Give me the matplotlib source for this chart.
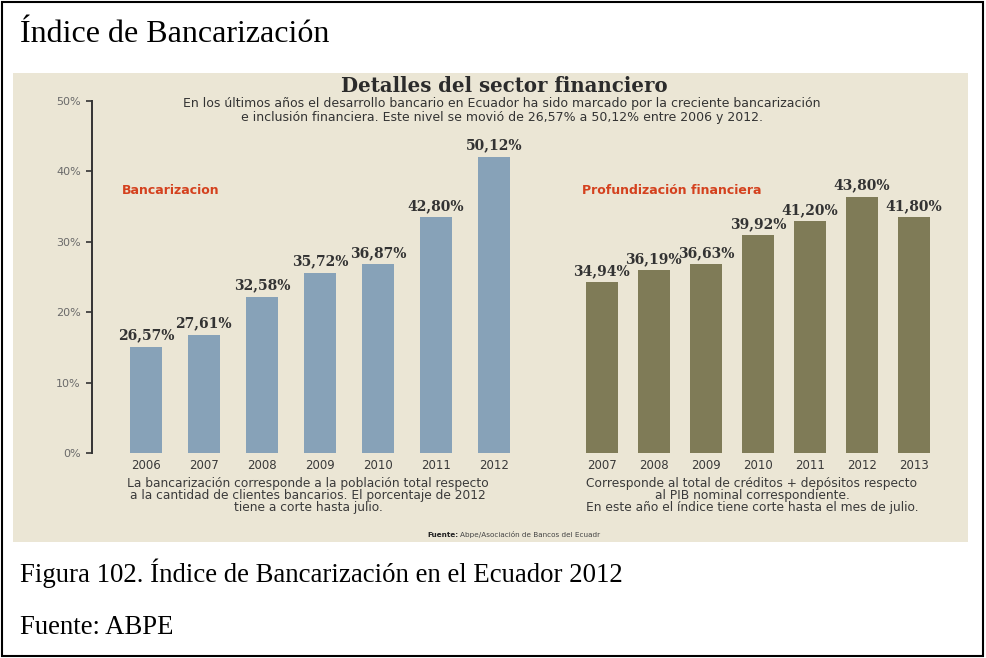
import numpy as np
import matplotlib.pyplot as plt
from matplotlib.patches import Rectangle

banc_years = ['2006', '2007', '2008', '2009', '2010', '2011', '2012']
banc_labels = ['26,57%', '27,61%', '32,58%', '35,72%', '36,87%', '42,80%', '50,12%']
# heights as the bars are drawn against the printed 0-50% axis
banc_heights = [15.1, 16.8, 22.2, 25.6, 26.8, 33.5, 42.1]

prof_years = ['2007', '2008', '2009', '2010', '2011', '2012', '2013']
prof_labels = ['34,94%', '36,19%', '36,63%', '39,92%', '41,20%', '43,80%', '41,80%']
prof_heights = [24.3, 26.0, 26.8, 30.9, 32.9, 36.4, 33.5]

yticks = [0, 10, 20, 30, 40, 50]

W, H = 986, 658
fig = plt.figure(figsize=(W / 100, H / 100), dpi=100)

def fx(px):
    return px / W

def fy(py):
    return 1 - py / H

# outer border and beige panel (behind the axes)
fig.patches.append(Rectangle((fx(2), fy(656)), fx(981), (654) / H, transform=fig.transFigure,
                             fill=False, edgecolor='black', linewidth=1.5, zorder=-2))
fig.patches.append(Rectangle((fx(13), fy(542)), fx(955), (542 - 73) / H, transform=fig.transFigure,
                             facecolor='#ebe6d5', edgecolor='none', zorder=-2))

serif_doc = 'Liberation Serif'
fig.text(fx(20), fy(35), 'Índice de Bancarización', fontsize=23, family=serif_doc, va='center')
fig.text(fx(20), fy(573), 'Figura 102. Índice de Bancarización en el Ecuador 2012',
         fontsize=19.3, family=serif_doc, va='center')
fig.text(fx(20), fy(627), 'Fuente: ABPE', fontsize=19.3, family=serif_doc, va='center')

# infographic header
fig.text(fx(504), fy(86), 'Detalles del sector financiero', fontsize=14.2, family='DejaVu Serif',
         fontweight='bold', color='#2b2b2b', ha='center', va='center')
fig.text(fx(502), fy(104), 'En los últimos años el desarrollo bancario en Ecuador ha sido marcado por la creciente bancarización',
         fontsize=9, color='#333333', ha='center', va='center')
fig.text(fx(502), fy(117), 'e inclusión financiera. Este nivel se movió de 26,57% a 50,12% entre 2006 y 2012.',
         fontsize=9, color='#333333', ha='center', va='center')

fig.text(fx(122), fy(190), 'Bancarizacion', fontsize=9, fontweight='bold', color='#d4411e', va='center')
fig.text(fx(582), fy(190), 'Profundización financiera', fontsize=9, fontweight='bold', color='#d4411e', va='center')

ax_bottom = fy(453)
ax_h = (453 - 101) / H

# left chart
ax1 = fig.add_axes([fx(92), ax_bottom, fx(428), ax_h])
ax1.set_facecolor('none')
x1 = np.arange(len(banc_years))
ax1.bar(x1, banc_heights, width=0.55, color='#87a2b8')
for xi, h, lab in zip(x1, banc_heights, banc_labels):
    ax1.annotate(lab, (xi, h), xytext=(0, 3), textcoords='offset points', ha='center', va='bottom',
                 fontsize=10, family='DejaVu Serif', fontweight='bold', color='#333333')
ax1.set_xlim(-0.928, 6.45)
ax1.set_ylim(0, 50)
ax1.set_yticks(yticks)
ax1.set_yticklabels([f'{t}%' for t in yticks])
ax1.set_xticks(x1)
ax1.set_xticklabels(banc_years)
for s in ['top', 'right', 'bottom']:
    ax1.spines[s].set_visible(False)
ax1.spines['left'].set_color('#333333')
ax1.spines['left'].set_linewidth(1.4)
ax1.tick_params(axis='y', direction='out', length=4, width=1.2, color='#333333',
                labelsize=8, labelcolor='#6a6a6a', pad=4)
ax1.tick_params(axis='x', length=0, labelsize=8.5, labelcolor='#3a3a3a', pad=4)

# right chart
ax2 = fig.add_axes([fx(560), ax_bottom, fx(400), ax_h])
ax2.set_facecolor('none')
x2 = np.arange(len(prof_years))
ax2.bar(x2, prof_heights, width=0.615, color='#7f7b57')
for xi, h, lab in zip(x2, prof_heights, prof_labels):
    ax2.annotate(lab, (xi, h), xytext=(0, 3), textcoords='offset points', ha='center', va='bottom',
                 fontsize=10, family='DejaVu Serif', fontweight='bold', color='#333333')
ax2.set_xlim(-0.804, 6.888)
ax2.set_ylim(0, 50)
ax2.set_yticks([])
ax2.set_xticks(x2)
ax2.set_xticklabels(prof_years)
for s in ax2.spines.values():
    s.set_visible(False)
ax2.tick_params(axis='x', length=0, labelsize=8.5, labelcolor='#3a3a3a', pad=4)

# notes under the charts
note_left = ['La bancarización corresponde a la población total respecto',
             'a la cantidad de clientes bancarios. El porcentaje de 2012',
             'tiene a corte hasta julio.']
note_right = ['Corresponde al total de créditos + depósitos respecto',
              'al PIB nominal correspondiente.',
              'En este año el índice tiene corte hasta el mes de julio.']
for i, line in enumerate(note_left):
    fig.text(fx(308), fy(483 + 12 * i), line, fontsize=8.8, color='#3a3a3a', ha='center', va='center')
for i, line in enumerate(note_right):
    fig.text(fx(752), fy(483 + 12 * i), line, fontsize=8.8, color='#3a3a3a', ha='center', va='center')

fig.text(fx(458), fy(535), 'Fuente:', fontsize=5.2, fontweight='bold', color='#222222', ha='right', va='center')
fig.text(fx(460), fy(535), 'Abpe/Asociación de Bancos del Ecuadr', fontsize=5.2, color='#444444', ha='left', va='center')

plt.savefig('out.png', dpi=100)
